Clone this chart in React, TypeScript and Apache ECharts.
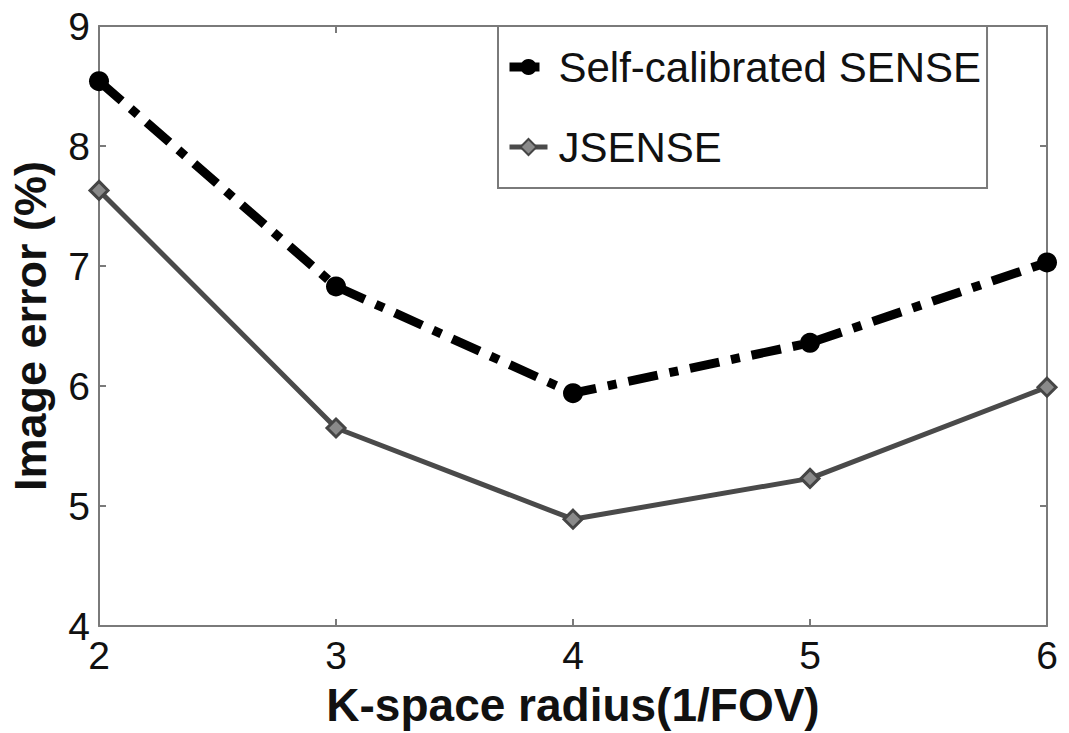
import React, { useEffect, useRef } from "react";
import * as echarts from "echarts";

const radius = [2, 3, 4, 5, 6];
const selfCalibrated = [8.54, 6.83, 5.94, 6.36, 7.03];
const jsense = [7.63, 5.65, 4.89, 5.23, 5.99];
const seriesNames = ["Self-calibrated SENSE", "JSENSE"];
const xTitle = "K-space radius(1/FOV)";
const yTitle = "Image error (%)";

const FONT = "'Liberation Sans', Arial, sans-serif";
const AXIS = "#7a7a7a";

export default function App() {
  const ref = useRef<HTMLDivElement>(null);
  useEffect(() => {
    if (!ref.current) return;
    const chart = echarts.init(ref.current, undefined, { renderer: "svg" });
    const tickStyle = { show: true, inside: true, length: 7, lineStyle: { color: AXIS, width: 2 } };
    const lineStyle = { color: AXIS, width: 2 };
    chart.setOption({
      animation: false,
      backgroundColor: "#fff",
      grid: { left: 99, top: 26, width: 948, height: 604, containLabel: false },
      legend: {
        orient: "vertical",
        left: 498,
        top: 26,
        padding: [20, 6, 20, 7],
        itemGap: 38,
        itemWidth: 38,
        itemHeight: 20,
        borderColor: AXIS,
        borderWidth: 2,
        backgroundColor: "#fff",
        lineStyle: { width: "inherit", type: "inherit" },
        textStyle: { fontFamily: FONT, fontSize: 42, color: "#111", padding: [0, 0, 0, 6] },
        data: seriesNames,
      },
      xAxis: [
        {
          type: "value",
          min: 2,
          max: 6,
          interval: 1,
          axisLine: { show: true, lineStyle },
          axisTick: tickStyle,
          splitLine: { show: false },
          axisLabel: { fontFamily: FONT, fontSize: 39, color: "#111", margin: 10 },
          name: xTitle,
          nameLocation: "middle",
          nameGap: 56,
          nameTextStyle: { fontFamily: FONT, fontSize: 46, fontWeight: "bold", color: "#111" },
        },
        {
          type: "value",
          position: "top",
          min: 2,
          max: 6,
          interval: 1,
          axisLine: { show: true, lineStyle },
          axisTick: tickStyle,
          axisLabel: { show: false },
          splitLine: { show: false },
        },
      ],
      yAxis: [
        {
          type: "value",
          min: 4,
          max: 9,
          interval: 1,
          axisLine: { show: true, lineStyle },
          axisTick: tickStyle,
          splitLine: { show: false },
          axisLabel: { fontFamily: FONT, fontSize: 39, color: "#111", margin: 9 },
          name: yTitle,
          nameLocation: "middle",
          nameGap: 46,
          nameRotate: 90,
          nameTextStyle: { fontFamily: FONT, fontSize: 45, fontWeight: "bold", color: "#111" },
        },
        {
          type: "value",
          position: "right",
          min: 4,
          max: 9,
          interval: 1,
          axisLine: { show: true, lineStyle },
          axisTick: tickStyle,
          axisLabel: { show: false },
          splitLine: { show: false },
        },
      ],
      series: [
        {
          name: seriesNames[0],
          type: "line",
          data: radius.map((r, i) => [r, selfCalibrated[i]]),
          symbol: "circle",
          symbolSize: 20,
          itemStyle: { color: "#000" },
          lineStyle: { color: "#000", width: 9, type: [30, 12, 9, 12], cap: "butt" },
          z: 3,
        },
        {
          name: seriesNames[1],
          type: "line",
          data: radius.map((r, i) => [r, jsense[i]]),
          symbol: "diamond",
          symbolSize: 18,
          itemStyle: { color: "#8a8a8a", borderColor: "#454545", borderWidth: 3 },
          lineStyle: { color: "#4a4a4a", width: 5 },
          z: 2,
        },
      ],
    });
    return () => chart.dispose();
  }, []);
  return <div ref={ref} style={{ width: 1069, height: 733, position: "absolute", left: 0, top: 0 }} />;
}
